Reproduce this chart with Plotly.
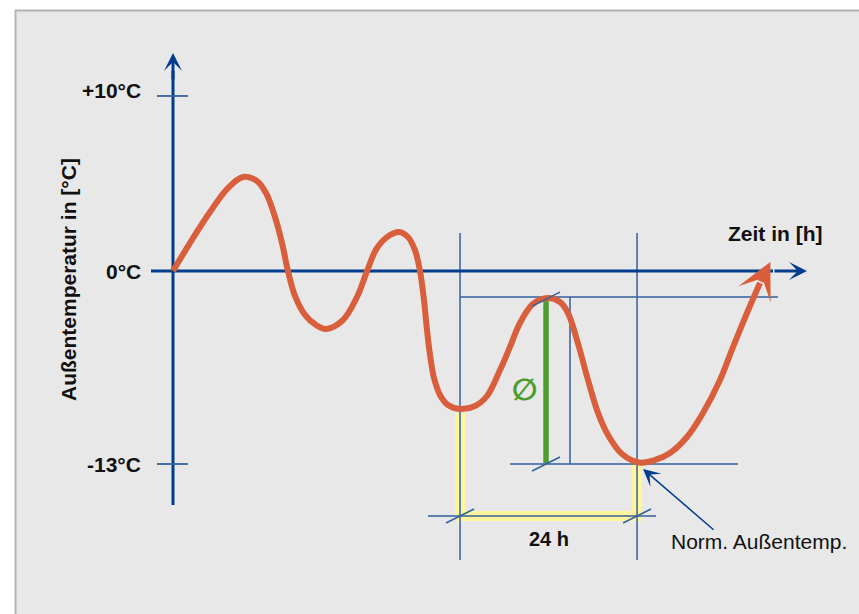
import plotly.graph_objects as go

# ---------------- data (schematic: hours / °C) ----------------
curve_t = [0, 2.71, 5.02, 7.32, 9.49, 11.39, 12.61, 13.83, 14.78, 15.59,
           16.54, 17.9, 19.39, 20.75, 23.05, 24.95, 26.31, 27.66, 29.42, 30.64,
           31.86, 32.81, 33.49, 34.03, 34.44, 34.85, 35.39, 36.2, 37.29, 38.92,
           40.95, 42.58, 44.34, 45.69, 47.05, 48.81, 50.85, 52.47, 53.56, 55.05,
           56.27, 57.63, 58.98, 60.88, 63.19, 65.36, 67.39, 69.69, 71.86, 74.17,
           75.93, 77.83, 79.59]
curve_T = [0, 2.22, 3.97, 5.52, 6.33, 6.06, 5.25, 3.64, 1.89, 0,
           -1.68, -2.96, -3.64, -3.91, -3.30, -1.75, 0, 1.55, 2.42, 2.63,
           2.29, 1.41, 0, -1.95, -3.97, -5.66, -7.21, -8.35, -9.03, -9.30,
           -9.09, -8.42, -6.67, -5.12, -3.50, -2.22, -1.82, -2.09, -2.83, -5.12,
           -7.34, -9.56, -11.05, -12.33, -12.90, -12.73, -12.26, -11.18, -9.56, -7.34,
           -5.12, -2.83, -0.81]
curve_tip = (81.0, 0.61)

ytick_vals = [11.79, 0, -13]
ytick_text = ["+10°C", "0°C", "-13°C"]

day_start, day_end = 38.92, 62.92        # 24 h window
trough_T = -9.30                          # temperature at day_start
peak_t, peak_T = 50.58, -1.89             # daily maximum
T_norm = -13                              # Norm-Außentemperatur
x_label, y_label = "Zeit in [h]", "Außentemperatur in [°C]"
dim_label = "24 h"
norm_label = "Norm. Außentemp."

# ---------------- scale helpers (pixel -> data) ----------------
PX_T = 7.375      # px per hour
PX_C = 14.846     # px per °C
X_RANGE = [-173 / PX_T, (859 - 173) / PX_T]
Y_RANGE = [-(614 - 271) / PX_C, 271 / PX_C]


def dx(px):
    return px / PX_T


def dy(px):
    return px / PX_C


BLUE = "#003d8c"
THIN = "#35609f"
ORANGE = "#d95f3c"
YELLOW = "#fff59a"
GREEN = "#4c9c2e"

fig = go.Figure()

shapes = []
# background panel
shapes.append(dict(type="rect", xref="paper", yref="paper", x0=15.5 / 859, x1=1.02,
                   y0=-0.02, y1=1 - 10.5 / 614, fillcolor="#e8e8e8",
                   line=dict(color="#b3b3b3", width=2), layer="below"))

T_dim = -16.5
band = dy(5)
hb = dx(5)
# yellow highlight
shapes += [
    dict(type="rect", x0=day_start - hb, x1=day_start + hb, y0=T_dim - band, y1=trough_T - dy(4),
         fillcolor=YELLOW, line_width=0, layer="below"),
    dict(type="rect", x0=day_start - hb, x1=day_end + hb, y0=T_dim - band, y1=T_dim + band,
         fillcolor=YELLOW, line_width=0, layer="below"),
    dict(type="rect", x0=day_end - hb, x1=day_end + hb, y0=T_dim - band, y1=T_norm,
         fillcolor=YELLOW, line_width=0, layer="below"),
]


def seg(x0, y0, x1, y1, color=THIN, width=1.5, layer="below"):
    return dict(type="line", x0=x0, y0=y0, x1=x1, y1=y1,
                line=dict(color=color, width=width), layer=layer)


peak_line_T = peak_T + dy(2)
# guide lines
shapes += [
    seg(day_start, dy(38), day_start, -dy(289)),
    seg(day_end, dy(38), day_end, -dy(289)),
    seg(day_start, peak_line_T, dx(605), peak_line_T),
    seg(dx(337), T_norm, dx(565), T_norm),
    seg(dx(397), peak_line_T, dx(397), T_norm),
    seg(day_start - dx(32), T_dim, day_end + dx(19), T_dim),
]
# axes
shapes += [
    seg(0, -dy(234), 0, dy(200), BLUE, 3),
    seg(-dx(22), 0, dx(600), 0, BLUE, 3),
    seg(-dx(16), ytick_vals[0], dx(15), ytick_vals[0], THIN, 1.8),
    seg(-dx(16), ytick_vals[2], dx(15), ytick_vals[2], THIN, 1.8),
]
# green mean bar
shapes.append(seg(peak_t, peak_T - dy(1), peak_t, T_norm + dy(1), GREEN, 5.5))
# slashes
for (sx, sy) in [(peak_t, peak_T), (peak_t, T_norm), (day_start, T_dim), (day_end, T_dim)]:
    shapes.append(seg(sx - dx(14), sy - dy(7), sx + dx(14), sy + dy(7), THIN, 1.5, "above"))

fig.add_trace(go.Scatter(x=curve_t, y=curve_T, mode="lines",
                         line=dict(color=ORANGE, width=6, shape="spline", smoothing=1.0),
                         hoverinfo="skip", showlegend=False))

FONT = "Liberation Sans, Arial, sans-serif"
ann = []
# arrow heads
ann.append(dict(x=0, y=dy(218), ax=0, ay=dy(190), xref="x", yref="y", axref="x", ayref="y",
                text="", showarrow=True, arrowhead=3, arrowwidth=3, arrowsize=1,
                arrowcolor=BLUE, standoff=0))
ann.append(dict(x=dx(634), y=0, ax=dx(600), ay=0, xref="x", yref="y", axref="x", ayref="y",
                text="", showarrow=True, arrowhead=3, arrowwidth=3, arrowsize=1,
                arrowcolor=BLUE, standoff=0))
ann.append(dict(x=curve_tip[0], y=curve_tip[1], ax=curve_t[-1], ay=curve_T[-1],
                xref="x", yref="y", axref="x", ayref="y",
                text="", showarrow=True, arrowhead=3, arrowwidth=6, arrowsize=1.0,
                arrowcolor=ORANGE, standoff=0))
ann.append(dict(x=day_end + dx(6), y=T_norm - dy(5), ax=day_end + dx(78), ay=T_norm - dy(67),
                xref="x", yref="y", axref="x", ayref="y",
                text="", showarrow=True, arrowhead=3, arrowwidth=1.5, arrowsize=1.9,
                arrowcolor=BLUE, standoff=0))
# tick labels
for v, t in zip(ytick_vals, ytick_text):
    ann.append(dict(x=-dx(30), y=v, xref="x", yref="y", text="<b>" + t + "</b>", showarrow=False,
                    xanchor="right", yanchor="middle", yshift=5 if v > 5 else 0,
                    font=dict(family=FONT, size=21, color="#111111")))
ann.append(dict(x=-dx(105), y=-dy(9), xref="x", yref="y", text="<b>" + y_label + "</b>",
                showarrow=False, textangle=-90,
                font=dict(family=FONT, size=21, color="#111111")))
ann.append(dict(x=dx(602), y=dy(38), xref="x", yref="y", text="<b>" + x_label + "</b>",
                showarrow=False, font=dict(family=FONT, size=21, color="#111111")))
ann.append(dict(x=(day_start + day_end) / 2, y=T_dim - dy(23), xref="x", yref="y",
                text="<b>" + dim_label + "</b>",
                showarrow=False, font=dict(family=FONT, size=20, color="#111111")))
ann.append(dict(x=day_end + dx(32), y=T_dim - dy(26), xref="x", yref="y", text=norm_label,
                showarrow=False, xanchor="left",
                font=dict(family=FONT, size=21, color="#111111")))
ann.append(dict(x=peak_t - dx(21), y=(peak_T + T_norm) / 2 - dy(8), xref="x", yref="y",
                text="<b>∅</b>", showarrow=False,
                font=dict(family="DejaVu Sans", size=30, color=GREEN)))

fig.update_layout(
    width=859, height=614, autosize=False,
    margin=dict(l=0, r=0, t=0, b=0),
    paper_bgcolor="white", plot_bgcolor="rgba(0,0,0,0)",
    xaxis=dict(range=X_RANGE, visible=False, fixedrange=True),
    yaxis=dict(range=Y_RANGE, visible=False, fixedrange=True),
    shapes=shapes, annotations=ann, showlegend=False,
)

fig.write_html("out.html", config={"displayModeBar": False},
               post_script="document.body.style.margin='0';document.body.style.overflow='hidden';")
